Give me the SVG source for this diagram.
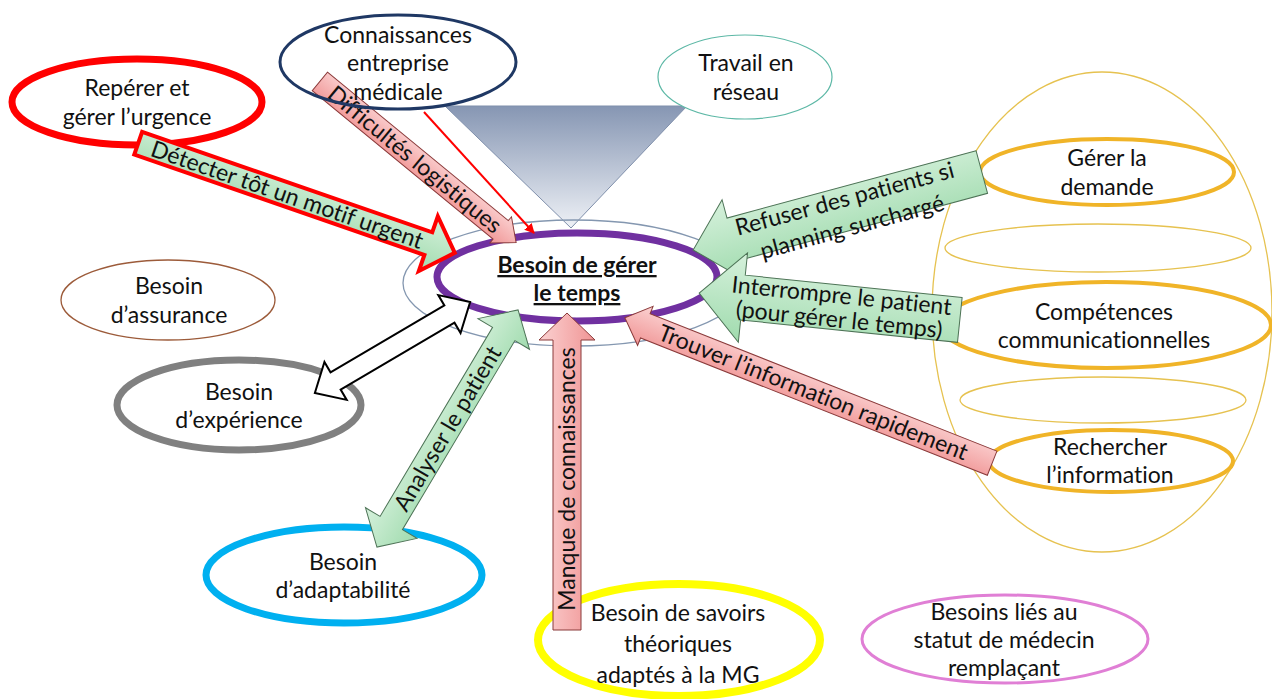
<svg xmlns="http://www.w3.org/2000/svg" width="1272" height="699" viewBox="0 0 1272 699">
  <defs>
    <linearGradient id="greenFill" x1="0" y1="0" x2="0" y2="1">
      <stop offset="0" stop-color="#d6f1dc"/>
      <stop offset="1" stop-color="#a0dbae"/>
    </linearGradient>
    <linearGradient id="pinkFill" x1="0" y1="0" x2="0" y2="1">
      <stop offset="0" stop-color="#fbd2d2"/>
      <stop offset="1" stop-color="#f09494"/>
    </linearGradient>
    <linearGradient id="funnelFill" x1="0" y1="0" x2="0" y2="1">
      <stop offset="0" stop-color="#8696b3"/>
      <stop offset="1" stop-color="#eef1f6"/>
    </linearGradient>
    <marker id="redHead" viewBox="0 0 10 10" refX="9" refY="5" markerWidth="5" markerHeight="5" orient="auto" markerUnits="strokeWidth">
      <path d="M0,0 L10,5 L0,10 z" fill="#ff0000"/>
    </marker>
    <style>
      text { font-family: "Lato", "Liberation Sans", sans-serif; font-size: 23px; fill: #111; text-anchor: middle; font-variant-ligatures: none; }
      .bold { font-weight: bold; text-decoration: underline; }
      .thinGold { fill: none; stroke: #e6c250; stroke-width: 1.3; }
      .thickGold { fill: none; stroke: #f0b428; stroke-width: 4; }
      .green { fill: url(#greenFill); stroke: #4d7356; stroke-width: 1; }
      .pink { fill: url(#pinkFill); stroke: #8a3a3a; stroke-width: 1; }
    </style>
  </defs>

  <rect width="1272" height="699" fill="#ffffff"/>

  <!-- communication skills cluster -->
  <g id="cluster-communication">
    <ellipse cx="1102" cy="312" rx="170" ry="240" class="thinGold"/>
  </g>
  <g id="node-gerer-demande">
    <ellipse cx="1107" cy="172" rx="127" ry="33" class="thickGold"/>
    <text x="1107" y="166">Gérer la</text>
    <text x="1107" y="195">demande</text>
  </g>
  <g id="node-empty-1">
    <ellipse cx="1098" cy="248" rx="153" ry="24" class="thinGold"/>
  </g>
  <g id="node-competences">
    <ellipse cx="1106" cy="325" rx="165" ry="43" class="thickGold"/>
    <text x="1104" y="320">Compétences</text>
    <text x="1104" y="348">communicationnelles</text>
  </g>
  <g id="node-empty-2">
    <ellipse cx="1103" cy="400" rx="143" ry="23" class="thinGold"/>
  </g>
  <g id="node-rechercher">
    <ellipse cx="1111" cy="461" rx="122" ry="31" class="thickGold"/>
    <text x="1110" y="455">Rechercher</text>
    <text x="1110" y="483">l’information</text>
  </g>

  <!-- funnel from the top nodes into the central need -->
  <g id="funnel">
    <polygon points="445,106 687,106 571,228" fill="url(#funnelFill)" stroke="#7f8fab" stroke-width="1"/>
  </g>

  <g id="node-travail-reseau">
    <ellipse cx="745" cy="77" rx="87" ry="42" fill="#ffffff" stroke="#5db8a6" stroke-width="1.2"/>
    <text x="746" y="71">Travail en</text>
    <text x="746" y="100">réseau</text>
  </g>

  <g id="node-urgence">
    <ellipse cx="137" cy="102" rx="125" ry="43" fill="#ffffff" stroke="#ff0000" stroke-width="7"/>
    <text x="137" y="96">Repérer et</text>
    <text x="137" y="125">gérer l’urgence</text>
  </g>

  <g id="node-assurance">
    <ellipse cx="168" cy="300" rx="107" ry="40" fill="#ffffff" stroke="#9c5b3a" stroke-width="1.3"/>
    <text x="169" y="294">Besoin</text>
    <text x="169" y="323">d’assurance</text>
  </g>

  <g id="node-experience">
    <ellipse cx="239" cy="405" rx="122" ry="45" fill="#ffffff" stroke="#808080" stroke-width="7"/>
    <text x="239" y="400">Besoin</text>
    <text x="239" y="428">d’expérience</text>
  </g>

  <g id="node-adaptabilite">
    <ellipse cx="344" cy="575" rx="138" ry="48" fill="#ffffff" stroke="#00b0f0" stroke-width="7"/>
    <text x="343" y="570">Besoin</text>
    <text x="343" y="598">d’adaptabilité</text>
  </g>

  <g id="node-savoirs">
    <ellipse cx="679" cy="640" rx="141" ry="56" fill="#ffffff" stroke="#ffff00" stroke-width="8"/>
    <text x="678" y="621">Besoin de savoirs</text>
    <text x="678" y="652">théoriques</text>
    <text x="678" y="683">adaptés à la MG</text>
  </g>

  <g id="node-statut">
    <ellipse cx="1005" cy="639" rx="143" ry="44" fill="#ffffff" stroke="#e07fd5" stroke-width="3"/>
    <text x="1004" y="620">Besoins liés au</text>
    <text x="1004" y="648">statut de médecin</text>
    <text x="1004" y="676">remplaçant</text>
  </g>

  <g id="node-gerer-temps">
    <ellipse cx="574" cy="283" rx="171" ry="63" fill="none" stroke="#8497b0" stroke-width="1.3"/>
    <ellipse cx="577" cy="277" rx="140" ry="44" fill="#ffffff" stroke="#7030a0" stroke-width="7"/>
    <text x="577" y="273" class="bold">Besoin de gérer</text>
    <text x="577" y="301" class="bold">le temps</text>
  </g>

  <g id="connectors">
    <!-- Détecter tôt un motif urgent -->
    <g transform="translate(296.5,198) rotate(19.1)">
      <polygon points="-167.5,-12 139.5,-12 139.5,-29 167.5,0 139.5,29 139.5,12 -167.5,12" fill="url(#greenFill)" stroke="#ff0000" stroke-width="4"/>
      <text x="-10" y="8">Détecter tôt un motif urgent</text>
    </g>
    <!-- Difficultés logistiques -->
    <g transform="translate(418,162) rotate(39.4)">
      <polygon points="-127,-12 107,-12 107,-17 127,0 107,17 107,12 -127,12" class="pink"/>
      <text x="-4" y="8">Difficultés logistiques</text>
    </g>
    <!-- thin red link -->
    <line x1="424" y1="112" x2="534" y2="233" stroke="#ff0000" stroke-width="2" marker-end="url(#redHead)"/>
    <!-- Refuser des patients si planning surchargé -->
    <g transform="translate(837.5,211) rotate(-15.1)">
      <polygon points="149.5,-22 -108.5,-22 -108.5,-41 -149.5,0 -108.5,41 -108.5,22 149.5,22" class="green"/>
      <text x="10" y="-2">Refuser des patients si</text>
      <text x="10" y="27">planning surchargé</text>
    </g>
    <!-- Interrompre le patient -->
    <g transform="translate(829.5,306.5) rotate(5.9)">
      <polygon points="131,-22.5 -87,-22.5 -87,-45 -131,0 -87,45 -87,22.5 131,22.5" class="green"/>
      <text x="11" y="-4">Interrompre le patient</text>
      <text x="11" y="20">(pour gérer le temps)</text>
    </g>
    <!-- Trouver l'information rapidement -->
    <g transform="translate(808.5,390.5) rotate(21.6)">
      <polygon points="197.5,-13 -175.5,-13 -175.5,-21 -197.5,0 -175.5,21 -175.5,13 197.5,13" class="pink"/>
      <text x="5" y="8">Trouver l’information rapidement</text>
    </g>
    <!-- Analyser le patient -->
    <g transform="translate(447.5,428.5) rotate(-59.25)">
      <polygon points="-138,0 -110,-30 -110,-13 110,-13 110,-30 138,0 110,30 110,13 -110,13 -110,30" class="green"/>
      <text x="0" y="8">Analyser le patient</text>
    </g>
    <!-- link with Besoin d'expérience -->
    <g transform="translate(392.5,347.5) rotate(-30.4)">
      <polygon points="-90,0 -66,-22 -66,-10 66,-10 66,-22 90,0 66,22 66,10 -66,10 -66,22" fill="#ffffff" stroke="#000000" stroke-width="2"/>
    </g>
    <!-- Manque de connaissances -->
    <g transform="translate(567,471.5) rotate(-90)">
      <polygon points="-158.5,-14 131.5,-14 131.5,-28 158.5,0 131.5,28 131.5,14 -158.5,14" class="pink"/>
      <text x="-7.5" y="8">Manque de connaissances</text>
    </g>
  </g>

  <g id="node-connaissances">
    <ellipse cx="398" cy="62" rx="118" ry="47" fill="none" stroke="#1f3864" stroke-width="3"/>
    <text x="398" y="43">Connaissances</text>
    <text x="398" y="71">entreprise</text>
    <text x="398" y="100">médicale</text>
  </g>
</svg>
